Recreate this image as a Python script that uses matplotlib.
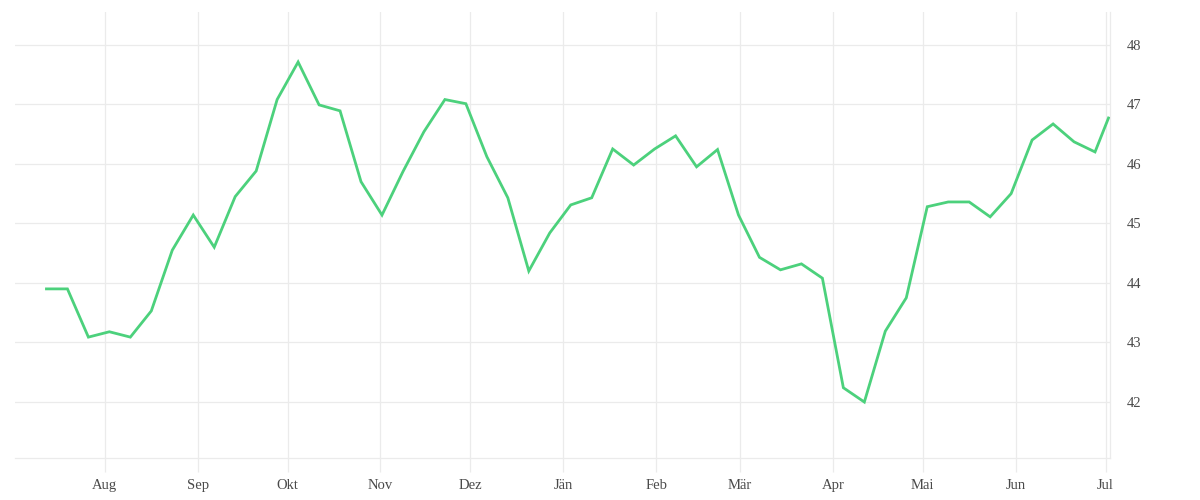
import matplotlib
matplotlib.use("Agg")
import matplotlib.pyplot as plt
import numpy as np
import pandas as pd

start_date = "2022-07-12 12:00"
n_weekly = 51
last_date = "2023-07-02"
values = [43.90, 43.90, 43.09, 43.18, 43.09, 43.53, 44.55, 45.14, 44.60, 45.45,
          45.88, 47.08, 47.71, 46.99, 46.89, 45.70, 45.14, 45.87, 46.54, 47.08,
          47.01, 46.12, 45.43, 44.20, 44.84, 45.31, 45.43, 46.25, 45.98, 46.25,
          46.47, 45.95, 46.24, 45.14, 44.43, 44.22, 44.32, 44.08, 42.24, 42.00,
          43.19, 43.75, 45.28, 45.36, 45.36, 45.11, 45.50, 46.40, 46.67, 46.37,
          46.20, 46.77]
month_labels = ["Aug", "Sep", "Okt", "Nov", "Dez", "Jän", "Feb", "Mär", "Apr", "Mai", "Jun", "Jul"]
month_ticks = pd.date_range("2022-08-01", periods=12, freq="MS")
y_ticks = [42, 43, 44, 45, 46, 47, 48]

dates = list(pd.date_range(start_date, periods=n_weekly, freq="7D")) + [pd.Timestamp(last_date)]

plt.rcParams['font.family'] = ['Liberation Serif', 'DejaVu Serif']

fig = plt.figure(figsize=(12, 5), dpi=100)
ax = fig.add_axes([0.0125, 0.084, 0.9125, 0.892])

grid_c = "#ebebeb"
ax.plot(dates, values, color="#4cd17c", lw=2.0, solid_joinstyle="miter", zorder=3)

ax.set_xlim(pd.Timestamp("2022-07-02"), pd.Timestamp(last_date) + pd.Timedelta(hours=12))
ax.set_ylim(41.06, 48.55)

ax.set_xticks(month_ticks)
ax.set_xticklabels(month_labels)
ax.set_yticks(y_ticks)
ax.yaxis.tick_right()
ax.grid(True, color=grid_c, lw=0.9)

for s in ["top", "left"]:
    ax.spines[s].set_visible(False)
ax.spines["bottom"].set_color(grid_c)
ax.spines["right"].set_color(grid_c)
ax.spines["bottom"].set_linewidth(0.9)
ax.spines["right"].set_linewidth(0.9)

ax.tick_params(axis="x", length=10, width=0.9, color=grid_c, colors="#4a4a4a",
               labelsize=10.5, pad=5)
ax.tick_params(axis="x", color=grid_c)
ax.tick_params(axis="y", length=0, colors="#4a4a4a", labelsize=10.5, pad=12)

fig.savefig("out.png", dpi=100, facecolor="white")
